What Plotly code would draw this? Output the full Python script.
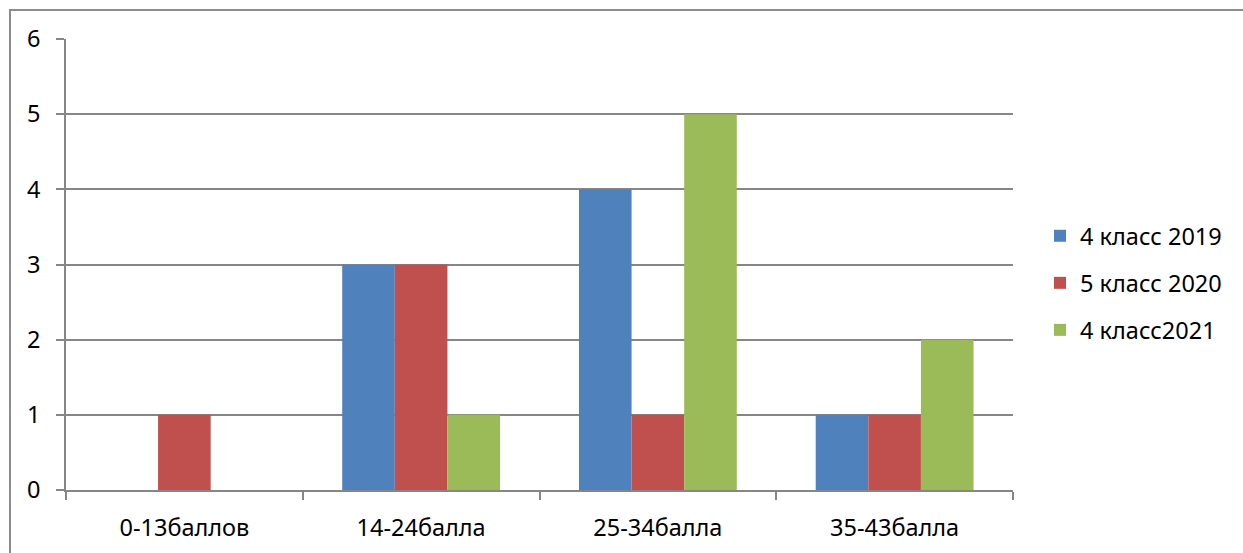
import plotly.graph_objects as go

categories = ["0-13баллов", "14-24балла", "25-34балла", "35-43балла"]
series_names = ["4 класс 2019", "5 класс 2020", "4 класс2021"]
values_2019 = [0, 3, 4, 1]
values_2020 = [1, 3, 1, 1]
values_2021 = [0, 1, 5, 2]
colors = ["#4F81BD", "#C0504D", "#9BBB59"]

W, H = 1243, 553
L, R, T, B = 66, 1013, 39, 490
pw, ph = R - L, B - T

fig = go.Figure()
for i, (name, vals) in enumerate(zip(series_names, [values_2019, values_2020, values_2021])):
    fig.add_trace(go.Bar(x=categories, y=vals, name=name, marker=dict(color=colors[i], line=dict(width=0)),
                         legendgroup=f"g{i}"))

grid = "#868686"
font = dict(family="Noto Sans, DejaVu Sans, sans-serif", size=23.5, color="#000000")
fig.update_layout(
    width=W, height=H,
    margin=dict(l=L, r=W - R, t=T, b=H - B, pad=0, autoexpand=False),
    paper_bgcolor="white", plot_bgcolor="white",
    barmode="group", bargap=1.5 / 4.5, bargroupgap=0,
    font=font,
    showlegend=True,
    legend=dict(x=(1040 - L) / pw, xanchor="left", y=(B - 283) / ph, yanchor="middle",
                traceorder="grouped", tracegroupgap=13.5, font=font,
                bgcolor="rgba(0,0,0,0)"),
    xaxis=dict(showline=True, linecolor=grid, linewidth=1.5, ticks="outside", tickson="boundaries",
               ticklen=8, tickcolor=grid, tickwidth=1.5, showgrid=False, ticklabelstandoff=16),
    yaxis=dict(range=[0, 6], dtick=1, showline=True, linecolor=grid, linewidth=1.5, ticks="outside",
               ticklen=8, tickcolor=grid, tickwidth=1.5, showgrid=True, gridcolor=grid, gridwidth=1.5,
               zeroline=False, ticklabelstandoff=11),
    shapes=[dict(type="rect", xref="paper", yref="paper",
                 x0=(10 - L) / pw, x1=(1260 - L) / pw, y0=(B - 570) / ph, y1=(B - 10) / ph,
                 line=dict(color="#8c8c8c", width=2), fillcolor="rgba(0,0,0,0)", layer="below")],
)
fig.write_html("out.html", config={"displayModeBar": False},
               post_script="document.body.style.margin='0';document.body.style.overflow='hidden';")
